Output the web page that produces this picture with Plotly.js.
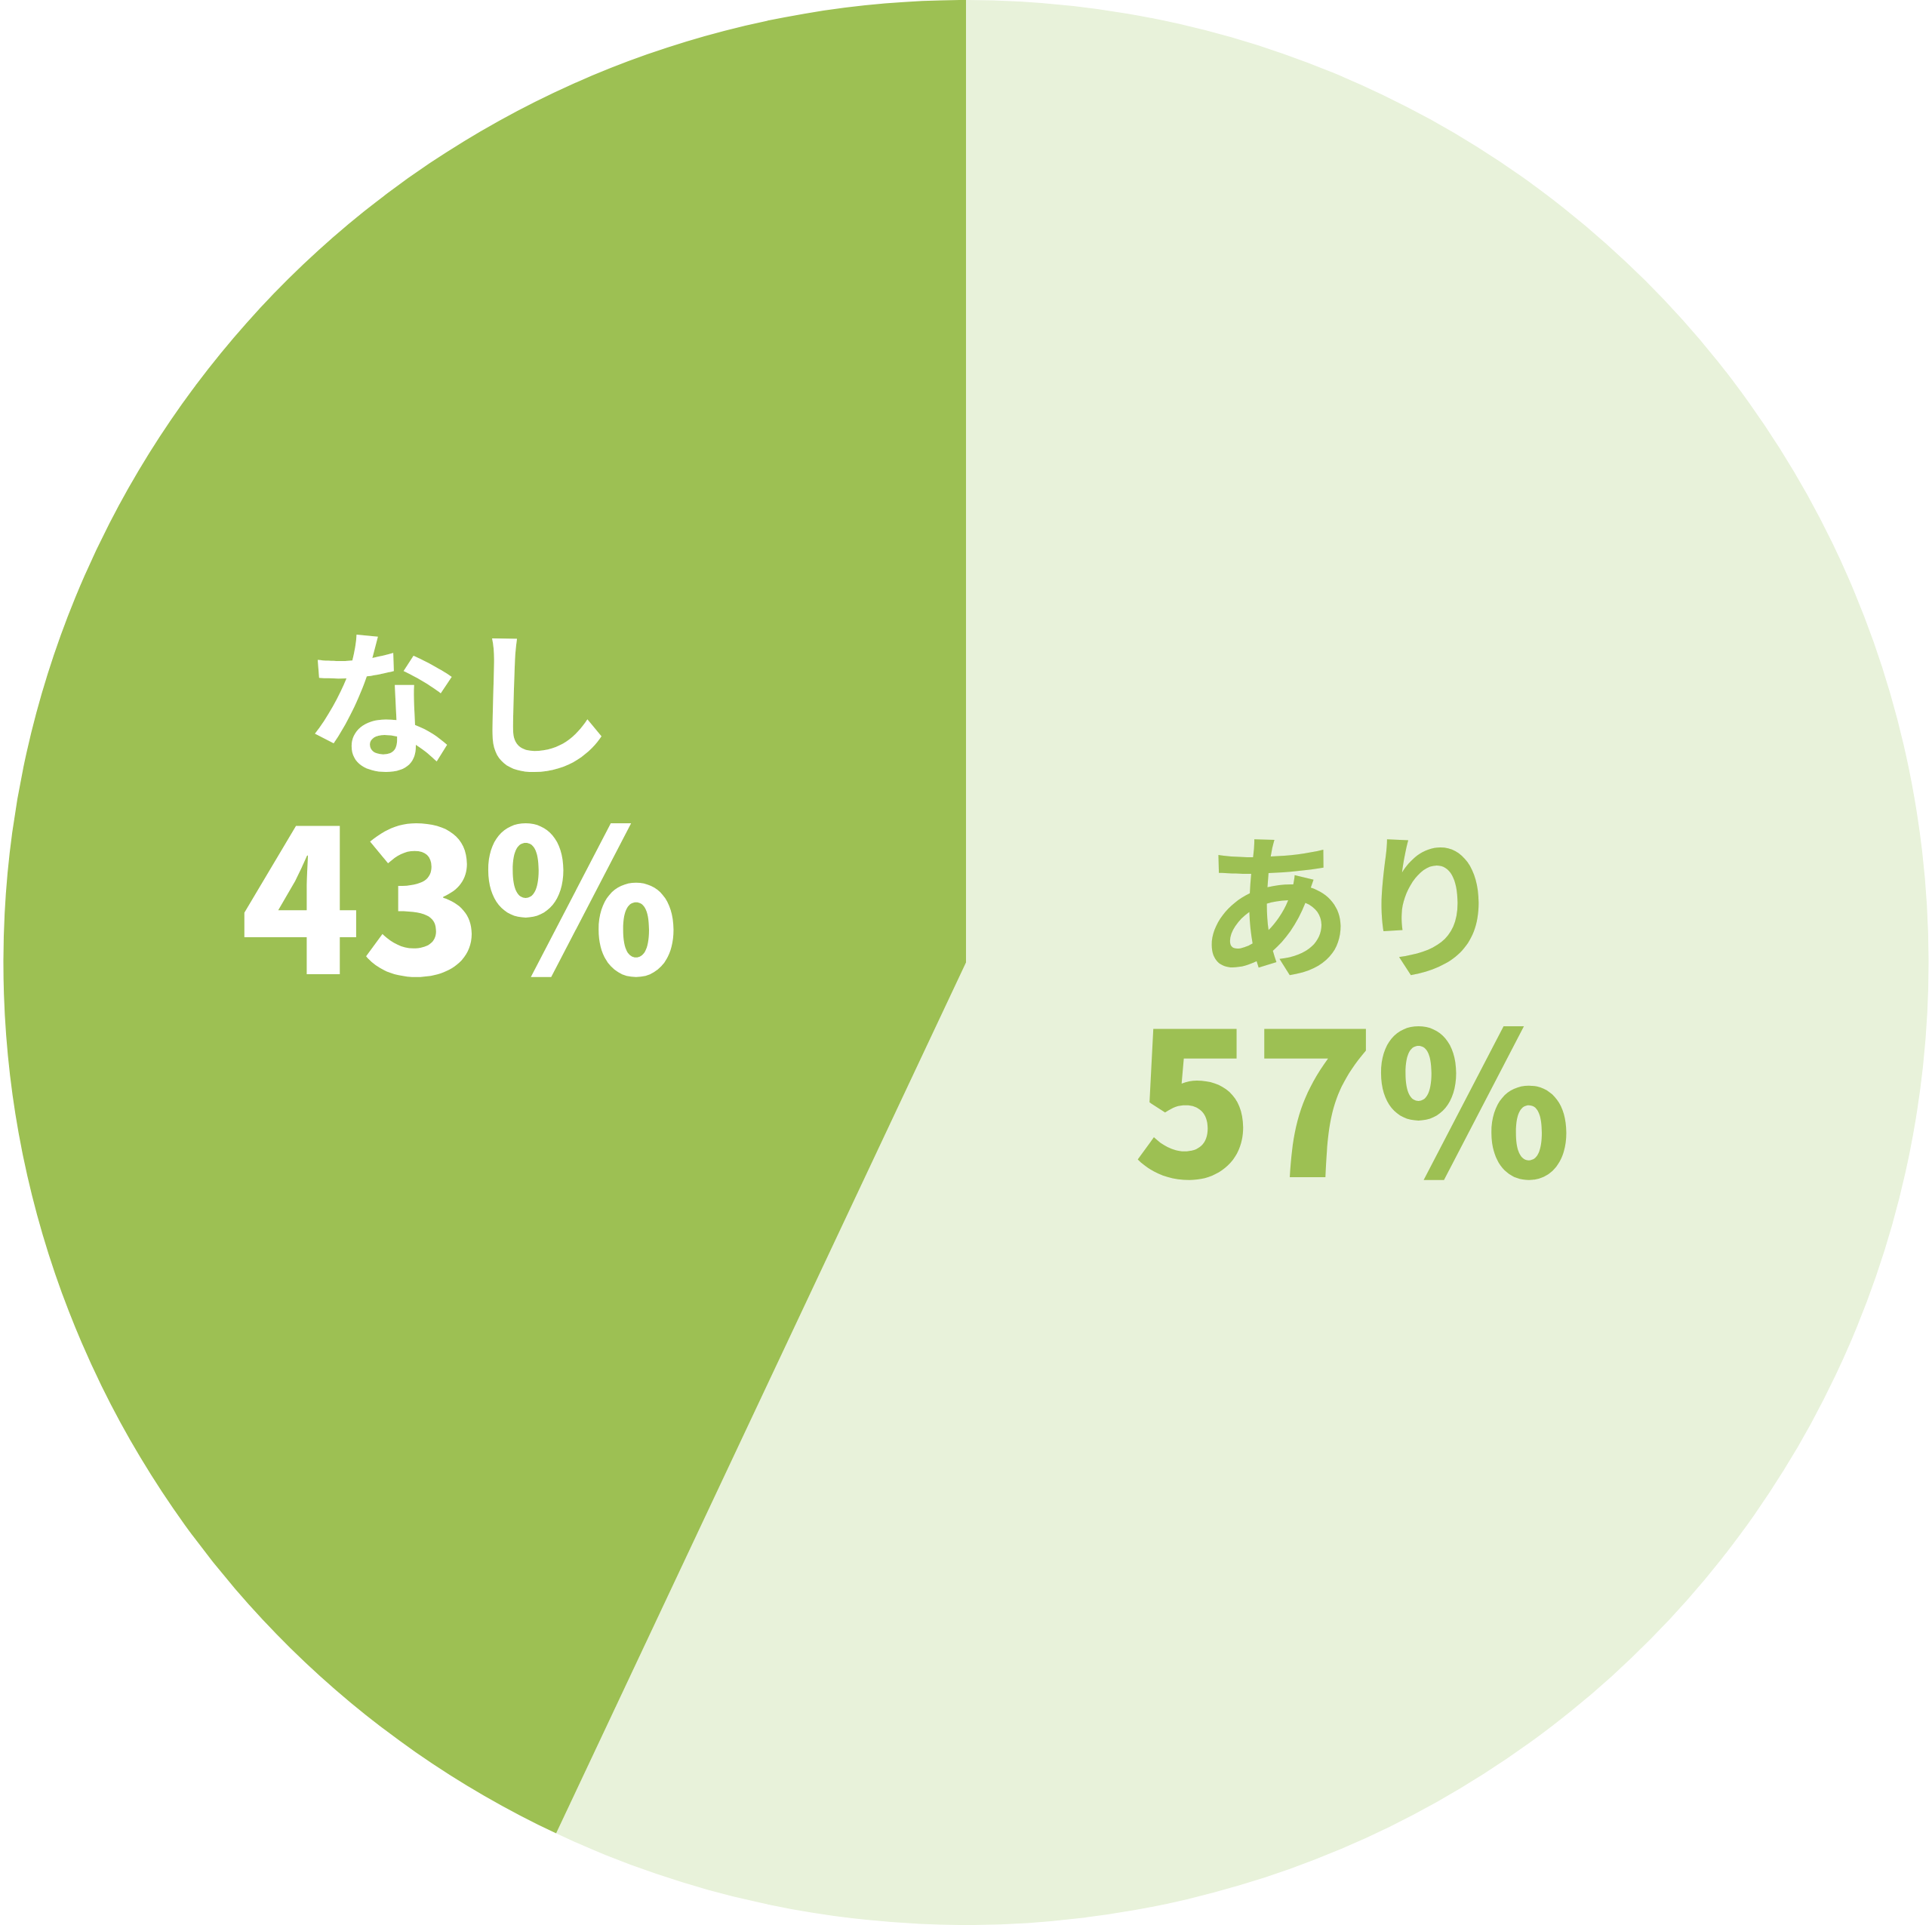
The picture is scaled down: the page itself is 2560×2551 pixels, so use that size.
<!DOCTYPE html>
<html>
<head>
<meta charset="utf-8">
<script src="https://cdn.plot.ly/plotly-3.0.1.min.js"></script>
<style>
  html, body { margin: 0; padding: 0; background: #ffffff; }
  #chart { width: 2560px; height: 2551px; }
</style>
</head>
<body>
<div id="chart"></div>
<script>
// slice data, first slice starts at 12 o'clock and runs clockwise
const labels = ["あり", "なし"];
const values = [57, 43];
const sliceColors = ["#e8f2da", "#9dc053"];
const textColors = ["#9dc053", "#ffffff"];

// centre of each label block in pixels
const labelPos = [
  { x: 1792, y: 1338 },
  { x: 609, y: 1069 },
];

const W = 2560;
const H = 2551;
const font = "'Noto Sans CJK JP', 'Noto Sans', sans-serif";

const pieTrace = {
  type: "pie",
  labels: labels,
  values: values,
  sort: false,
  direction: "clockwise",
  rotation: 0,
  textinfo: "none",
  hoverinfo: "skip",
  showlegend: false,
  marker: { colors: sliceColors, line: { width: 0 } },
  domain: { x: [0, 1], y: [0, 1] },
};

// one block per slice: name on top, big bold percentage below
// (base size sets the line gap, the spans set the glyph sizes)
const annotations = labels.map((lab, i) => ({
  xref: "paper",
  yref: "paper",
  x: labelPos[i].x / W,
  y: 1 - labelPos[i].y / H,
  text:
    '<span style="font-size:205px;font-weight:700">' + lab + "</span><br>" +
    '<span style="font-size:264px;font-weight:900">' + values[i] + "%</span>",
  showarrow: false,
  xanchor: "center",
  yanchor: "middle",
  align: "center",
  font: { family: font, size: 217, color: textColors[i] },
}));

const layout = {
  width: W,
  height: H,
  margin: { l: 0, r: 0, t: 0, b: 0, pad: 0 },
  paper_bgcolor: "#ffffff",
  plot_bgcolor: "#ffffff",
  annotations: annotations,
};

Plotly.newPlot("chart", [pieTrace], layout, { displayModeBar: false, staticPlot: true });
</script>
</body>
</html>
